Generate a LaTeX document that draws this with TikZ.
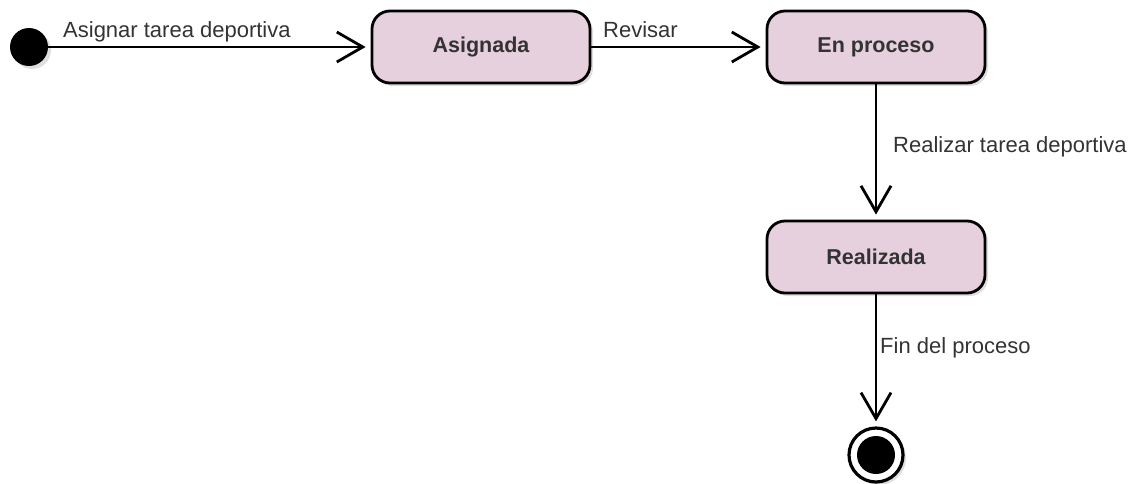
\documentclass[tikz,border=0pt]{standalone}
\usepackage{fontspec}
\setmainfont{Liberation Sans}
\usetikzlibrary{arrows.meta,shadows}
\definecolor{statefill}{HTML}{E6D0DE}
\definecolor{txt}{HTML}{333333}
\tikzset{
  statebox/.style={draw=black, line width=2.8pt, fill=statefill, rounded corners=18pt,
    minimum width=218pt, minimum height=72pt, inner sep=0pt,
    font=\fontsize{21.5}{25}\selectfont\bfseries, text=txt,
    drop shadow={opacity=0.25, shadow xshift=3pt, shadow yshift=-3pt}},
  trans/.style={draw=black, line width=2.8pt,
    -{Straight Barb[length=26pt, width=30pt, line width=2.8pt]}, shorten >=5pt},
  lbl/.style={font=\fontsize{22}{26}\selectfont, text=txt, anchor=base west, inner sep=0pt}
}
\begin{document}
\begin{tikzpicture}[x=1pt,y=-1pt]
\useasboundingbox (0,0) rectangle (1140,483);
\node[circle, fill=black, minimum size=38pt, inner sep=0pt,
  drop shadow={opacity=0.25, shadow xshift=3pt, shadow yshift=-3pt}] (init) at (29,47) {};
\node[statebox] (asig) at (481,47) {Asignada};
\node[statebox] (proc) at (876,47) {En proceso};
\node[statebox] (real) at (876,257) {Realizada};
\node[circle, draw=black, line width=3.2pt, fill=white, minimum size=54pt, inner sep=0pt,
  drop shadow={opacity=0.25, shadow xshift=3pt, shadow yshift=-3pt}] (fin) at (876,455) {};
\node[circle, fill=black, minimum size=38pt, inner sep=0pt] (finin) at (fin.center) {};
\draw[trans] (init) -- (asig);
\draw[trans] (asig) -- (proc);
\draw[trans] (proc) -- (real);
\draw[trans] (real) -- (fin);
\node[lbl] (l1) at (63,37) {Asignar tarea deportiva};
\node[lbl] (l2) at (603,37) {Revisar};
\node[lbl] (l3) at (893,152) {Realizar tarea deportiva};
\node[lbl] (l4) at (880,353) {Fin del proceso};
\end{tikzpicture}
\end{document}
